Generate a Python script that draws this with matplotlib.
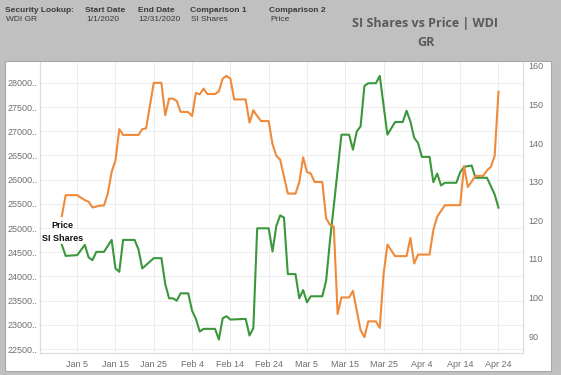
import matplotlib
matplotlib.use("Agg")
import matplotlib.pyplot as plt
import matplotlib.dates as mdates
from matplotlib.patches import Rectangle
import pandas as pd

# ---------------- data ----------------
price_dates = ["2020-01-01", "2020-01-02", "2020-01-05", "2020-01-07", "2020-01-08", "2020-01-09",
               "2020-01-11", "2020-01-12", "2020-01-13", "2020-01-14", "2020-01-15", "2020-01-16",
               "2020-01-17", "2020-01-21", "2020-01-22", "2020-01-23", "2020-01-25", "2020-01-27",
               "2020-01-28", "2020-01-29", "2020-01-30", "2020-01-31", "2020-02-01", "2020-02-03",
               "2020-02-04", "2020-02-05", "2020-02-06", "2020-02-07", "2020-02-08", "2020-02-10",
               "2020-02-11", "2020-02-12", "2020-02-13", "2020-02-14", "2020-02-15", "2020-02-18",
               "2020-02-19", "2020-02-20", "2020-02-21", "2020-02-22", "2020-02-24", "2020-02-25",
               "2020-02-26", "2020-02-27", "2020-02-29", "2020-03-02", "2020-03-03", "2020-03-04",
               "2020-03-05", "2020-03-06", "2020-03-07", "2020-03-09", "2020-03-10", "2020-03-11",
               "2020-03-12", "2020-03-13", "2020-03-14", "2020-03-16", "2020-03-17", "2020-03-19",
               "2020-03-20", "2020-03-21", "2020-03-23", "2020-03-24", "2020-03-25", "2020-03-26",
               "2020-03-28", "2020-03-31", "2020-04-01", "2020-04-02", "2020-04-03", "2020-04-06",
               "2020-04-07", "2020-04-08", "2020-04-10", "2020-04-14", "2020-04-15", "2020-04-16",
               "2020-04-18", "2020-04-20", "2020-04-21", "2020-04-22", "2020-04-23", "2020-04-24"]
price = [121.1, 126.5, 126.5, 125.2, 124.8, 123.3,
         123.8, 123.8, 126.9, 132.5, 135.5, 143.6,
         142.1, 142.1, 143.6, 143.8, 155.6, 155.6,
         147.2, 151.5, 151.5, 150.9, 148.1, 148.0,
         147.0, 153.0, 152.6, 154.1, 152.7, 152.7,
         153.4, 156.7, 157.4, 156.7, 151.3, 151.3,
         145.3, 148.5, 147.0, 145.7, 145.7, 139.7,
         136.7, 135.7, 126.9, 126.9, 129.9, 136.3,
         132.5, 132.1, 129.9, 129.9, 120.5, 118.8,
         118.4, 95.7, 100.0, 100.0, 101.7, 91.5,
         89.7, 93.8, 93.8, 92.1, 106.0, 113.7,
         110.7, 110.7, 115.4, 108.8, 111.1, 111.1,
         117.5, 120.9, 123.9, 123.9, 134.0, 128.6,
         131.5, 131.5, 132.9, 133.8, 136.7, 153.3]

si_dates = ["2020-01-01", "2020-01-02", "2020-01-05", "2020-01-07", "2020-01-08", "2020-01-09",
            "2020-01-10", "2020-01-12", "2020-01-14", "2020-01-15", "2020-01-16", "2020-01-17",
            "2020-01-20", "2020-01-21", "2020-01-22", "2020-01-25", "2020-01-27", "2020-01-28",
            "2020-01-29", "2020-01-30", "2020-01-31", "2020-02-01", "2020-02-03", "2020-02-04",
            "2020-02-05", "2020-02-06", "2020-02-07", "2020-02-10", "2020-02-11", "2020-02-12",
            "2020-02-13", "2020-02-14", "2020-02-18", "2020-02-19", "2020-02-20", "2020-02-21",
            "2020-02-24", "2020-02-25", "2020-02-26", "2020-02-27", "2020-02-28", "2020-02-29",
            "2020-03-02", "2020-03-03", "2020-03-04", "2020-03-05", "2020-03-06", "2020-03-09",
            "2020-03-10", "2020-03-11", "2020-03-12", "2020-03-14", "2020-03-16", "2020-03-17",
            "2020-03-18", "2020-03-19", "2020-03-20", "2020-03-21", "2020-03-23", "2020-03-24",
            "2020-03-26", "2020-03-28", "2020-03-30", "2020-03-31", "2020-04-01", "2020-04-02",
            "2020-04-03", "2020-04-04", "2020-04-06", "2020-04-07", "2020-04-08", "2020-04-09",
            "2020-04-10", "2020-04-13", "2020-04-14", "2020-04-15", "2020-04-17", "2020-04-18",
            "2020-04-21", "2020-04-23", "2020-04-24"]
si_shares = [24652, 24425, 24440, 24652, 24392, 24337,
             24508, 24508, 24755, 24166, 24096, 24755,
             24755, 24563, 24166, 24378, 24378, 23843,
             23548, 23548, 23499, 23651, 23651, 23293,
             23123, 22861, 22917, 22917, 22697, 23137,
             23178, 23109, 23123, 22779, 22931, 24995,
             24995, 24516, 25043, 25263, 25216, 24049,
             24049, 23548, 23719, 23466, 23590, 23590,
             23911, 24734, 25454, 26930, 26930, 26621,
             26998, 27101, 27938, 27993, 27993, 28144,
             26930, 27191, 27191, 27424, 27204, 26862,
             26759, 26471, 26471, 25948, 26127, 25880,
             25936, 25936, 26154, 26265, 26292, 26039,
             26039, 25695, 25421]

x_tick_dates = ["2020-01-05", "2020-01-15", "2020-01-25", "2020-02-04", "2020-02-14", "2020-02-24",
                "2020-03-05", "2020-03-15", "2020-03-25", "2020-04-04", "2020-04-14", "2020-04-24"]
x_tick_labels = ["Jan 5", "Jan 15", "Jan 25", "Feb 4", "Feb 14", "Feb 24",
                 "Mar 5", "Mar 15", "Mar 25", "Apr 4", "Apr 14", "Apr 24"]
left_ticks = [22500, 23000, 23500, 24000, 24500, 25000, 25500, 26000, 26500, 27000, 27500, 28000]
left_tick_labels = [f"{v}.." for v in left_ticks]
right_ticks = [90, 100, 110, 120, 130, 140, 150, 160]
right_tick_labels = [str(v) for v in right_ticks]

header_labels = ["Security Lookup:", "Start Date", "End Date", "Comparison 1", "Comparison 2"]
header_values = ["WDI GR", "1/1/2020", "12/31/2020", "SI Shares", "Price"]
title_lines = ["SI Shares vs Price | WDI", "GR"]

# ---------------- figure ----------------
W, H = 561, 375
fig = plt.figure(figsize=(W / 100, H / 100), dpi=100, facecolor="#c0c0c0")


def fx(x):
    return x / W


def fy(y):
    return 1 - y / H


# white panel
fig.patches.append(Rectangle((fx(5), fy(371)), (551 - 5) / W, (371 - 61) / H,
                             transform=fig.transFigure, facecolor="white",
                             edgecolor="#a8a8a8", linewidth=0.8, zorder=-5))

AL, AR, AT, AB = 40, 523, 62, 353
ax = fig.add_axes([fx(AL), fy(AB), (AR - AL) / W, (AB - AT) / H])
ax.set_facecolor("none")
ax2 = ax.twinx()

gx = pd.to_datetime(price_dates)
sx = pd.to_datetime(si_dates)

ax.plot(sx, si_shares, color="#3b973b", lw=1.5, solid_joinstyle="round", zorder=3)
ax2.plot(gx, price, color="#ef8a3a", lw=1.5, solid_joinstyle="round", zorder=3)

ax.set_xlim(pd.Timestamp("2020-01-01") - pd.Timedelta(days=5.7),
            pd.Timestamp("2020-01-01") + pd.Timedelta(days=120.4))
ax.set_ylim(22418, 28432)
ax2.set_ylim(85.6, 161.0)

lab_font = dict(family="Liberation Sans", size=6.5, color="#6e6e6e")
ax.set_xticks(pd.to_datetime(x_tick_dates))
ax.set_xticklabels(x_tick_labels, **lab_font)
ax.set_yticks(left_ticks)
ax.set_yticklabels(left_tick_labels, **lab_font)
ax2.set_yticks(right_ticks)
ax2.set_yticklabels(right_tick_labels, **lab_font)
ax.tick_params(axis="both", length=0)
ax.tick_params(axis="x", pad=5)
ax.tick_params(axis="y", pad=2)
ax2.tick_params(axis="y", length=0, pad=4)

ax.grid(True, color="#ededed", lw=0.7)
ax.set_axisbelow(True)
for a in (ax, ax2):
    for s in a.spines.values():
        s.set_color("#dcdcdc")
        s.set_linewidth(0.8)
    a.spines["top"].set_visible(False)

# line labels
fig.text(fx(62.5), fy(225), "Price", ha="center", va="center",
         family="Liberation Sans", weight="bold", size=6.5, color="#111111")
fig.text(fx(62.7), fy(238.5), "SI Shares", ha="center", va="center",
         family="Liberation Sans", weight="bold", size=6.5, color="#111111")

# header
hx_lab = [5, 85, 138, 190, 269]
hx_val = [6, 86, 138, 191, 270]
for x, t in zip(hx_lab, header_labels):
    fig.text(fx(x), fy(10), t, ha="left", va="center", family="Liberation Sans",
             weight="bold", size=6, color="#3a3a3a")
for x, t in zip(hx_val, header_values):
    fig.text(fx(x), fy(19.5), t, ha="left", va="center", family="Liberation Sans",
             size=6, color="#3a3a3a")

fig.text(fx(425.5), fy(23), title_lines[0], ha="center", va="center", family="Open Sans",
         weight="bold", size=9, color="#5a5a5a")
fig.text(fx(425.5), fy(42), title_lines[1], ha="center", va="center", family="Open Sans",
         weight="bold", size=9, color="#5a5a5a")

fig.savefig("out.png", dpi=100, facecolor=fig.get_facecolor())
